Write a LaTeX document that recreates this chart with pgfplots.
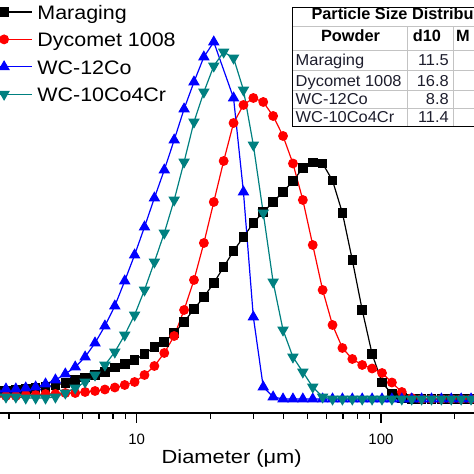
\documentclass[border=0pt]{standalone}
\usepackage{fontspec}
\setmainfont{Liberation Sans}
\newfontfamily\widefont[FakeStretch=1.1]{Liberation Sans}
\newfontfamily\widerfont[FakeStretch=1.15]{Liberation Sans}
\newfontfamily\tabfont[FakeStretch=1.04]{Liberation Sans}
\usepackage{pgfplots}
\pgfplotsset{compat=1.18}
\definecolor{tealc}{RGB}{0,128,128}
\definecolor{gridg}{RGB}{195,195,195}
\definecolor{tabtext}{RGB}{30,30,45}
\begin{document}
\begin{tikzpicture}[x=1bp,y=1bp]
\path[use as bounding box] (0,0) rectangle (474,474);
\clip (0,0) rectangle (474,474);
\begin{axis}[
  at={(0,61)}, anchor=south west,
  scale only axis, width=474bp, height=413bp,
  xmode=log, xmin=2.7568, xmax=240.35, ymin=-14, ymax=399,
  axis y line=none, axis x line=bottom,
  axis line style={-, line width=1.8bp, black},
  clip=false,
  xtick={10,100}, xticklabels={10,100},
  minor xtick={3,4,5,6,7,8,9,20,30,40,50,60,70,80,90,200},
  tick align=outside, major tick length=10bp, minor tick length=6bp,
  tick style={line width=1.3bp, black},
  /pgf/number format/assume math mode=true,
  xticklabel style={font=\fontsize{15bp}{15bp}\selectfont, anchor=base, yshift=-21bp},
  xlabel={Diameter (μm)},
  xlabel style={at={(axis description cs:0.4888,0)}, anchor=base, yshift=-50.5bp, font=\widerfont\fontsize{19bp}{19bp}\selectfont},
  legend style={draw=none, fill=none, at={(axis description cs:-0.05211,0.98959)}, anchor=north west,
    inner sep=0pt, outer sep=0pt, row sep=0pt, font=\widefont\fontsize{19.5bp}{19.5bp}\selectfont,
    nodes={inner sep=0pt, text height=15bp, text depth=12.4bp},
    /tikz/every odd column/.append style={column sep=4.5bp}},
  legend cell align=left,
  legend image code/.code={\draw[mark repeat=2,mark phase=2,#1] plot coordinates {(0bp,6bp) (28.2bp,6bp) (56.4bp,6bp)};},
]
\addplot[black, line width=1.2bp, mark=square*, mark size=4.2bp] coordinates {
(2.6562,8) (2.9159,8) (3.2010,9) (3.5140,10) (3.8576,11) (4.2347,12) (4.6487,14) (5.1032,16) (5.6021,19) (6.1498,21.5) (6.7511,24) (7.4111,27) (8.1356,31.5) (8.931,35) (9.804,39) (10.762,45) (11.815,52) (12.970,57) (14.238,66) (15.630,77) (17.158,90) (18.836,102) (20.677,116) (22.699,132) (24.918,148) (27.354,162) (30.029,176) (32.965,187) (36.188,197) (39.726,207) (43.610,218) (47.874,231) (52.555,236.5) (57.693,235.5) (63.334,218.5) (69.526,186) (76.324,139) (83.786,89) (91.978,45) (100.97,16.5) (110.84,5) (121.68,1) (133.58,0) (146.64,0) (160.97,0) (176.71,0) (193.99,0) (212.95,0) (233.77,0) (256.63,0)
};
\addlegendentry{Maraging}
\addplot[red, line width=1.2bp, mark=*, mark size=4.3bp] coordinates {
(2.6562,3) (2.9159,3) (3.2010,3) (3.5140,4) (3.8576,4) (4.2347,5) (4.6487,5) (5.1032,6) (5.6021,6) (6.1498,7) (6.7511,8) (7.4111,9.5) (8.1356,11.5) (8.931,14) (9.804,17) (10.762,24) (11.815,33) (12.970,46) (14.238,63) (15.630,89) (17.158,119) (18.836,156) (20.677,197) (22.699,238) (24.918,276) (27.354,294) (30.029,301) (32.965,297) (36.188,283) (39.726,263) (43.610,235.5) (47.874,199) (52.555,154) (57.693,109) (63.334,74) (69.526,51) (76.324,40) (83.786,34) (91.978,30.5) (100.97,26) (110.84,16.5) (121.68,7) (133.58,1) (146.64,0) (160.97,0) (176.71,0) (193.99,0) (212.95,0) (233.77,0) (256.63,0)
};
\addlegendentry{Dycomet 1008}
\addplot[blue, line width=1.2bp, mark=triangle*, mark size=5.5bp] coordinates {
(2.6562,10) (2.9159,10) (3.2010,10) (3.5140,11) (3.8576,12) (4.2347,15) (4.6487,19) (5.1032,25) (5.6021,32) (6.1498,42) (6.7511,56) (7.4111,73) (8.1356,93) (8.931,118) (9.804,144) (10.762,172) (11.815,201) (12.970,229) (14.238,259) (15.630,290) (17.158,317) (18.836,342) (20.677,357) (24.918,301) (27.354,207) (30.029,82) (32.965,12) (36.188,2) (39.726,0) (43.610,0) (47.874,0) (52.555,0) (57.693,0) (63.334,0) (69.526,0) (76.324,0) (83.786,0) (91.978,0) (100.97,0) (110.84,0) (121.68,0) (133.58,0) (146.64,0) (160.97,0) (176.71,0) (193.99,0) (212.95,0) (233.77,0) (256.63,0)
};
\addlegendentry{WC-12Co}
\addplot[tealc, line width=1.2bp, mark=triangle*, mark size=5.5bp, mark options={rotate=180}] coordinates {
(2.6562,2) (2.9159,2) (3.2010,2) (3.5140,1) (3.8576,1) (4.2347,1) (4.6487,2) (5.1032,6) (5.6021,11) (6.1498,17) (6.7511,24) (7.4111,34) (8.1356,47) (8.931,64) (9.804,84) (10.762,109) (11.815,137) (12.970,166) (14.238,199) (15.630,237) (17.158,277) (18.836,307) (20.677,333) (22.699,347) (24.918,341) (27.354,309) (30.029,254) (32.965,186) (36.188,117) (39.726,69) (43.610,42) (47.874,27) (52.555,12) (57.693,2) (63.334,0) (69.526,0) (76.324,0) (83.786,0) (91.978,0) (100.97,0) (110.84,0) (121.68,0) (133.58,0) (146.64,0) (160.97,0) (176.71,0) (193.99,0) (212.95,0) (233.77,0) (256.63,0)
};
\addlegendentry{WC-10Co4Cr}
\end{axis}
% table inset
\fill[white] (292,466.7) rectangle (530,347.3);
\draw[gridg, line width=0.8bp] (292,447.3) -- (530,447.3);
\draw[gridg, line width=0.8bp] (292,424) -- (530,424);
\draw[gridg, line width=0.8bp] (292,403.3) -- (530,403.3);
\draw[gridg, line width=0.8bp] (292,384) -- (530,384);
\draw[gridg, line width=0.8bp] (292,365.7) -- (530,365.7);
\draw[gridg, line width=0.8bp] (407.5,447.3) -- (407.5,347.3);
\draw[gridg, line width=0.8bp] (453.3,447.3) -- (453.3,347.3);
\draw[black, line width=1bp] (292,466.7) rectangle (530,347.3);
\begin{scope}[every node/.style={inner sep=0pt}]
\node[anchor=base west, font=\fontsize{16.3bp}{16.3bp}\selectfont\bfseries] at (311.3,454) {Particle Size Distribu};
\node[anchor=base, font=\fontsize{16.3bp}{16.3bp}\selectfont\bfseries] at (350.5,432) {Powder};
\node[anchor=base, font=\fontsize{16.3bp}{16.3bp}\selectfont\bfseries] at (427,432) {d10};
\node[anchor=base west, font=\fontsize{16.3bp}{16.3bp}\selectfont\bfseries] at (456,432) {M};
\node[anchor=base west, text=tabtext, font=\tabfont\fontsize{15.8bp}{15.8bp}\selectfont] at (295.5,408.5) {Maraging};
\node[anchor=base west, text=tabtext, font=\tabfont\fontsize{15.8bp}{15.8bp}\selectfont] at (295.5,387.5) {Dycomet 1008};
\node[anchor=base west, text=tabtext, font=\tabfont\fontsize{15.8bp}{15.8bp}\selectfont] at (295.5,369.5) {WC-12Co};
\node[anchor=base west, text=tabtext, font=\tabfont\fontsize{15.8bp}{15.8bp}\selectfont] at (295.5,351.5) {WC-10Co4Cr};
\node[anchor=base east, text=tabtext, font=\tabfont\fontsize{15.8bp}{15.8bp}\selectfont] at (449,408.5) {11.5};
\node[anchor=base east, text=tabtext, font=\tabfont\fontsize{15.8bp}{15.8bp}\selectfont] at (449,387.5) {16.8};
\node[anchor=base east, text=tabtext, font=\tabfont\fontsize{15.8bp}{15.8bp}\selectfont] at (449,369.5) {8.8};
\node[anchor=base east, text=tabtext, font=\tabfont\fontsize{15.8bp}{15.8bp}\selectfont] at (449,351.5) {11.4};
\end{scope}
\end{tikzpicture}
\end{document}
